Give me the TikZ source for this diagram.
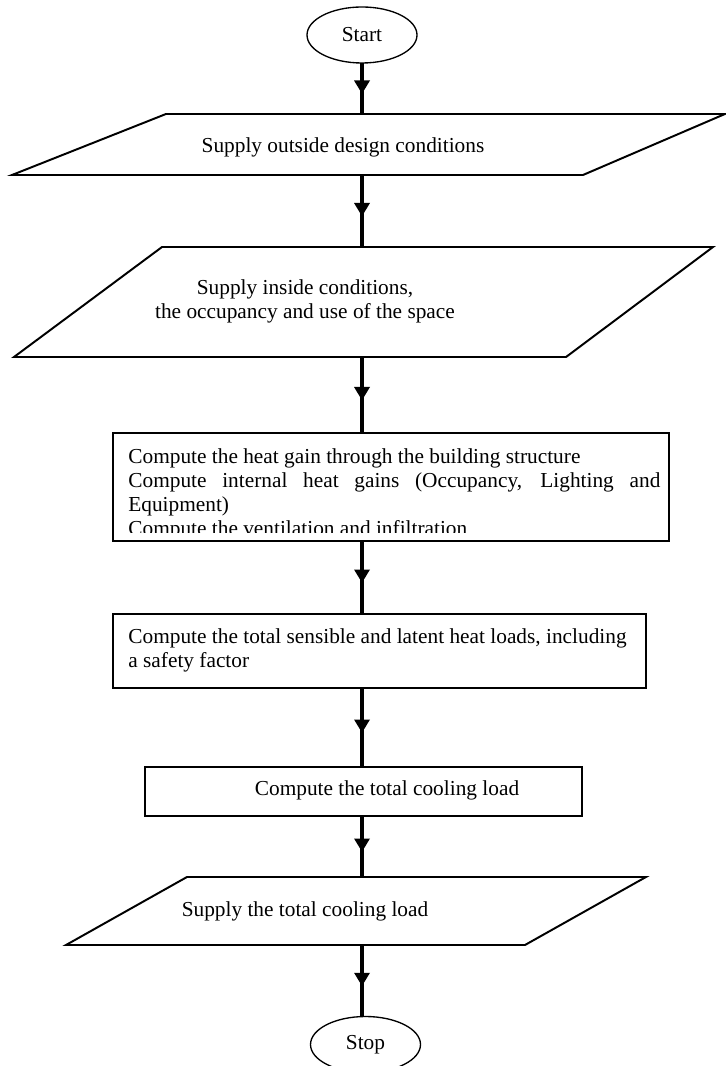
\documentclass[tikz,border=0pt]{standalone}
\usepackage{fontspec}
\setmainfont{Liberation Serif}
\usetikzlibrary{shapes.geometric}
\usetikzlibrary{arrows.meta}
\usetikzlibrary{decorations.markings}
\newcommand{\pxu}{0.5625pt}
\tikzset{
    flow/.style = {
        line width = 1.7pt,
        postaction = {decorate},
        decoration = {
            markings,
            mark = at position 0.5 with {\arrow[xshift = 3pt]{Triangle[length = 7.5pt, width = 8.5pt]}},
        },
    },
    terminal/.style = {
        shape        = ellipse,
        draw,
        line width   = 0.75pt,
        inner sep    = 0pt,
        outer sep    = 0pt,
        minimum width  = 110*\pxu,
        minimum height = 56*\pxu,
    },
    iobox/.style = {
        shape        = trapezium,
        draw,
        line width   = 1.1pt,
        inner sep    = 0pt,
        outer sep    = 0pt,
        text depth   = 0pt,
        anchor       = bottom left corner,
    },
    procbox/.style = {
        shape        = rectangle,
        draw,
        line width   = 1.1pt,
        inner sep    = 0pt,
        outer sep    = 0pt,
        anchor       = north west,
    },
}

\begin{document}
\begin{tikzpicture}[
    x = \pxu,
    y = -\pxu,
    every node/.style = {
        font = \fontsize{12}{13.5}\selectfont,
    },
]
    \fill[white] (0, 0) rectangle (725, 1066);
    \useasboundingbox (0, 0) rectangle (725, 1066);

    % start and stop
    \node (Start) at (362,   35) [terminal] {Start};
    \node (Stop)  at (365.5, 1044.5) [terminal] {Stop};

    % input / output boxes (body width and height in pt)
    \node (Outside) at ( 12, 175) [iobox,
        trapezium left angle = 21.61, trapezium right angle = 156.75,
        text width = 234.56pt, text height = 34.31pt] {};
    \node (Inside) at ( 14, 357) [iobox,
        trapezium left angle = 36.62, trapezium right angle = 143.19,
        text width = 227.25pt, text height = 61.88pt] {};
    \node (Output) at ( 66, 945) [iobox,
        trapezium left angle = 29.34, trapezium right angle = 150.66,
        text width = 190.13pt, text height = 38.25pt] {};

    % process boxes
    \node (Gains)   at (113, 433) [procbox,
        minimum width = 556*\pxu, minimum height = 108*\pxu] {};
    \node (Loads)   at (113, 614) [procbox,
        minimum width = 533*\pxu, minimum height = 74*\pxu] {};
    \node (Cooling) at (145, 767) [procbox,
        minimum width = 437*\pxu, minimum height = 49*\pxu] {};

    % texts
    \node (OutsideText) at (343, 147) {Supply outside design conditions};
    \node (InsideText)  at (305, 301) [align = center]
        {Supply inside conditions,\\the occupancy and use of the space};
    \begin{scope}
        \clip (113, 433) rectangle (669, 532);
        \node (GainsText) at (128, 448) [anchor = north west, inner sep = 0pt,
            text width = 299.25pt, align = justify]
            {Compute the heat gain through the building structure\\
             Compute internal heat gains (Occupancy, Lighting and \mbox{Equipment)}\\
             Compute the ventilation and infiltration};
    \end{scope}
    \node (LoadsText) at (128, 628) [anchor = north west, inner sep = 0pt,
        align = left]
        {Compute the total sensible and latent heat loads, including\\a safety factor};
    \node (CoolingText) at (387, 790) {Compute the total cooling load};
    \node (OutputText)  at (305, 911) {Supply the total cooling load};

    % connectors
    \draw[flow] (Start) -- (Start |- Outside.north);
    \draw[flow] (Start |- Outside.south) -- (Start |- Inside.north);
    \draw[flow] (Start |- Inside.south)  -- (Start |- Gains.north);
    \draw[flow] (Start |- Gains.south)   -- (Start |- Loads.north);
    \draw[flow] (Start |- Loads.south)   -- (Start |- Cooling.north);
    \draw[flow] (Start |- Cooling.south) -- (Start |- Output.north);
    \draw[flow] (Start |- Output.south)  -- (Start |- Stop.north);
\end{tikzpicture}
\end{document}
